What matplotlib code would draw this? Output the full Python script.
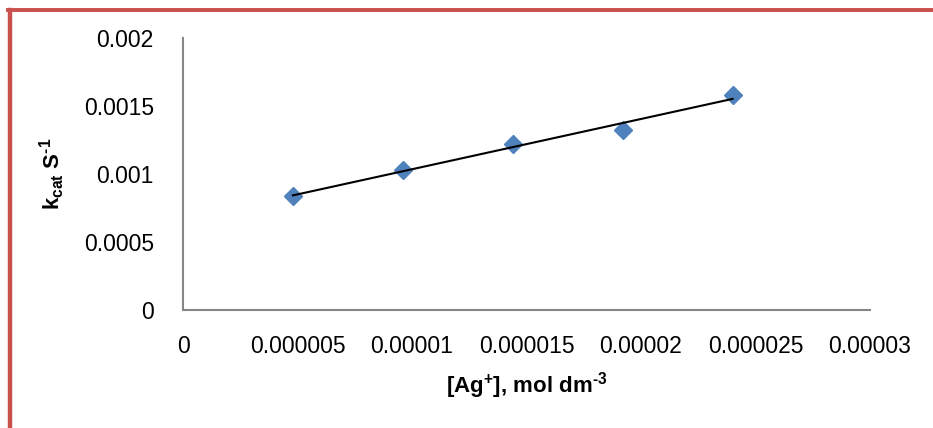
import numpy as np
import matplotlib
matplotlib.use("Agg")
import matplotlib.pyplot as plt
from matplotlib.lines import Line2D

# Data
ag_conc = [4.8e-6, 9.6e-6, 14.4e-6, 19.2e-6, 24.0e-6]
k_cat = [0.000838, 0.00103, 0.00122, 0.00132, 0.00158]
x_ticks = [0, 0.000005, 0.00001, 0.000015, 0.00002, 0.000025, 0.00003]
x_tick_labels = ["0", "0.000005", "0.00001", "0.000015", "0.00002", "0.000025", "0.00003"]
y_ticks = [0, 0.0005, 0.001, 0.0015, 0.002]
y_tick_labels = ["0", "0.0005", "0.001", "0.0015", "0.002"]

plt.rcParams['font.family'] = ['Liberation Sans', 'DejaVu Sans']
plt.rcParams['mathtext.fontset'] = 'custom'
plt.rcParams['mathtext.rm'] = 'Liberation Sans:bold'
plt.rcParams['mathtext.bf'] = 'Liberation Sans:bold'
plt.rcParams['mathtext.it'] = 'Liberation Sans:bold'
plt.rcParams['mathtext.default'] = 'bf'

fig = plt.figure(figsize=(9.33, 4.28), dpi=100)
ax = fig.add_axes([183/933, 1 - 310/428, (870 - 183)/933, (310 - 38)/428])

ax.plot(ag_conc, k_cat, linestyle='none', marker='D', markersize=9.5,
        color='#4F81BD', zorder=2)
coef = np.polyfit(ag_conc, k_cat, 1)
xs = np.array([ag_conc[0], ag_conc[-1]])
ax.plot(xs, np.polyval(coef, xs), color='black', linewidth=1.5, zorder=3)

ax.set_xlim(0, 0.00003)
ax.set_ylim(0, 0.002)
ax.set_xticks(x_ticks)
ax.set_xticklabels(x_tick_labels)
ax.set_yticks(y_ticks)
ax.set_yticklabels(y_tick_labels)
ax.tick_params(axis='x', length=0, pad=18, labelsize=16.5)
ax.tick_params(axis='y', length=0, pad=21, labelsize=16.5)

for s in ['top', 'right']:
    ax.spines[s].set_visible(False)
for s in ['left', 'bottom']:
    ax.spines[s].set_color('#868686')
    ax.spines[s].set_linewidth(1.5)

ax.set_xlabel('[Ag$^{+}$], mol dm$^{\u2010 3}$'.replace('\u2010 ', '\u2010'),
              fontsize=16, fontweight='bold', labelpad=9)
ax.set_ylabel('k$_{cat}$ S$^{\u20101}$', fontsize=16, fontweight='bold', labelpad=12)

# Red chart border (top and left)
fig.add_artist(Line2D([8/933, 1], [1 - 10/428, 1 - 10/428], color='#C9504D',
                      linewidth=2.8, transform=fig.transFigure))
fig.add_artist(Line2D([10/933, 10/933], [0, 1 - 10/428], color='#C9504D',
                      linewidth=3.2, transform=fig.transFigure))

fig.savefig('out.png', dpi=100)
